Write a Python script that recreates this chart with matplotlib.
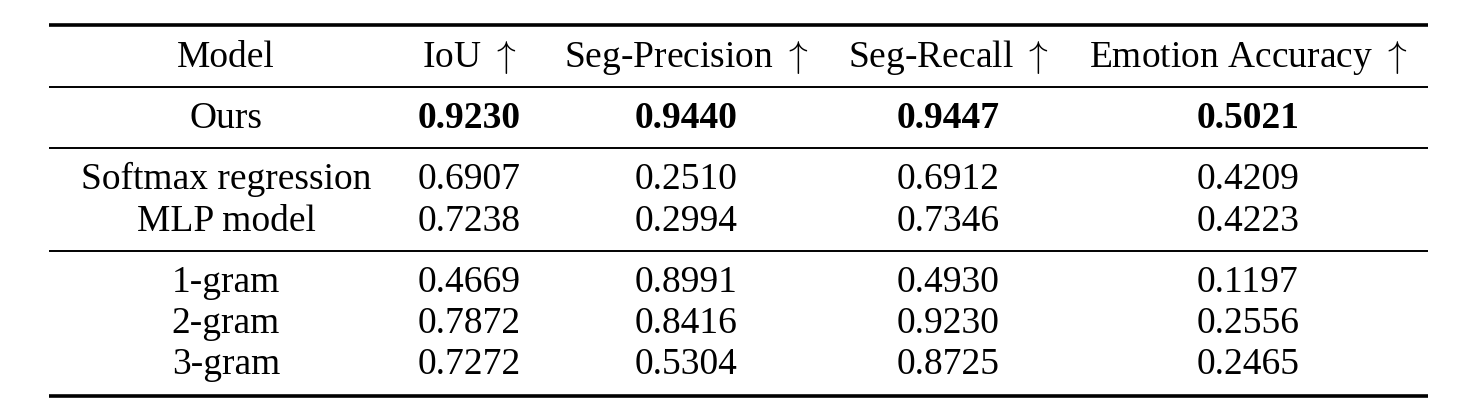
import matplotlib.pyplot as plt

plt.rcParams["mathtext.fontset"] = "cm"

# Table content
columns = ["Model", r"IoU $\uparrow$", r"Seg-Precision $\uparrow$", r"Seg-Recall $\uparrow$",
           r"Emotion Accuracy $\uparrow$"]
models = ["Ours", "Softmax regression", "MLP model", "1-gram", "2-gram", "3-gram"]
iou = ["0.9230", "0.6907", "0.7238", "0.4669", "0.7872", "0.7272"]
seg_precision = ["0.9440", "0.2510", "0.2994", "0.8991", "0.8416", "0.5304"]
seg_recall = ["0.9447", "0.6912", "0.7346", "0.4930", "0.9230", "0.8725"]
emotion_acc = ["0.5021", "0.4209", "0.4223", "0.1197", "0.2556", "0.2465"]
bold_rows = [0]

# Layout (pixel coordinates, text placed on baselines)
W, H = 1462, 401
col_x = [226, 469, 686, 948, 1248]
header_y = 66.7
row_y = [127.7, 189.3, 231, 291.7, 333.3, 374]
x0, x1 = 49, 1428
font = "Liberation Serif"
fs = 27

fig = plt.figure(figsize=(W / 100, H / 100), dpi=100)
ax = fig.add_axes([0, 0, 1, 1])
ax.set_xlim(0, W)
ax.set_ylim(H, 0)
ax.axis("off")

# booktabs-style rules
for y, lw in [(25, 2.6), (87.3, 1.4), (147.8, 1.4), (251, 1.4), (395.5, 2.6)]:
    ax.plot([x0, x1], [y, y], color="black", lw=lw, solid_capstyle="butt")

for x, name in zip(col_x, columns):
    ax.text(x, header_y, name, ha="center", va="baseline", fontsize=fs,
            family=[font, "DejaVu Sans"])

table = [models, iou, seg_precision, seg_recall, emotion_acc]
for i, y in enumerate(row_y):
    for j, col in enumerate(table):
        weight = "bold" if (i in bold_rows and j > 0) else "normal"
        ax.text(col_x[j], y, col[i], ha="center", va="baseline", fontsize=fs,
                family=font, fontweight=weight)

fig.savefig("out.png", dpi=100)
